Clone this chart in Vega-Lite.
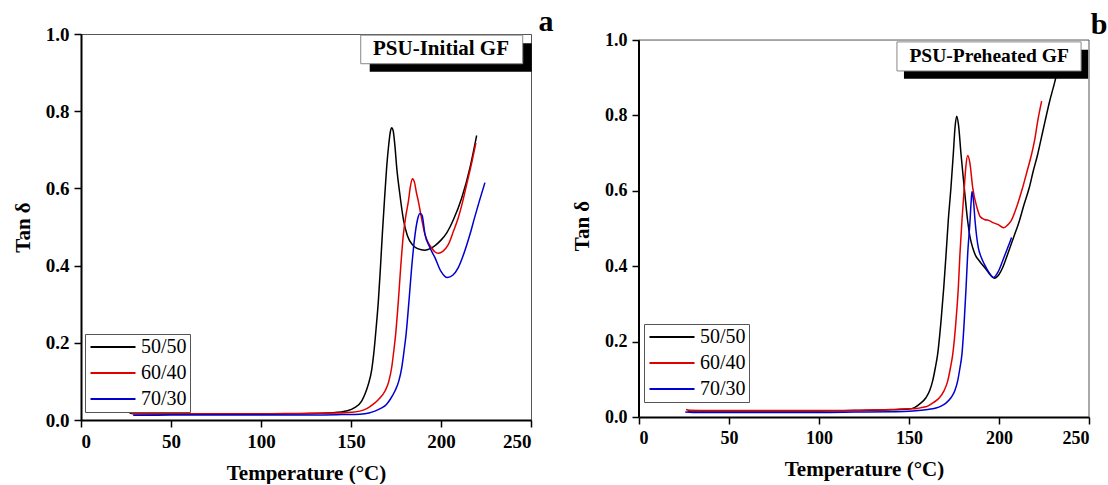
{
  "$schema": "https://vega.github.io/schema/vega-lite/v6.json",
  "background": "white",
  "padding": {"left": 11, "top": 6, "right": 0, "bottom": 0},
  "spacing": 17,
  "config": {
    "font": "Liberation Serif",
    "view": {"stroke": "#555", "strokeWidth": 1},
    "axis": {"domainColor": "#000", "domainWidth": 2, "tickColor": "#000", "tickWidth": 1.5, "tickSize": 7, "grid": false,
      "labelFont": "Liberation Serif", "labelFontWeight": "bold", "labelColor": "#000", "labelPadding": 5,
      "titleFont": "Liberation Serif", "titleFontWeight": "bold", "titleColor": "#000"},
    "legend": {"orient": "none", "symbolType": "M-3,0H3", "symbolSize": 225, "symbolStrokeWidth": 1.8, "symbolOffset": 15,
      "labelFont": "Liberation Serif", "labelFontSize": 20, "labelColor": "#000", "labelOffset": 18,
      "strokeColor": "#555", "padding": 3, "rowPadding": 6, "title": null}
  },
  "datasets": {
    "a": [
      {"s":"50/50","T":27,"v":0.018},{"s":"50/50","T":30,"v":0.016},{"s":"50/50","T":50,"v":0.015},{"s":"50/50","T":80,"v":0.015},{"s":"50/50","T":100,"v":0.015},{"s":"50/50","T":120,"v":0.016},{"s":"50/50","T":140,"v":0.019},{"s":"50/50","T":148,"v":0.024},{"s":"50/50","T":152,"v":0.032},{"s":"50/50","T":155.9,"v":0.049},{"s":"50/50","T":158,"v":0.07},{"s":"50/50","T":159.6,"v":0.092},{"s":"50/50","T":161.5,"v":0.13},{"s":"50/50","T":162.8,"v":0.179},{"s":"50/50","T":164,"v":0.24},{"s":"50/50","T":165.2,"v":0.308},{"s":"50/50","T":166.3,"v":0.39},{"s":"50/50","T":167.4,"v":0.481},{"s":"50/50","T":168.6,"v":0.57},{"s":"50/50","T":169.8,"v":0.654},{"s":"50/50","T":171,"v":0.715},{"s":"50/50","T":172,"v":0.75},{"s":"50/50","T":172.6,"v":0.757},{"s":"50/50","T":173.4,"v":0.75},{"s":"50/50","T":174.4,"v":0.71},{"s":"50/50","T":175.4,"v":0.654},{"s":"50/50","T":177,"v":0.59},{"s":"50/50","T":179.1,"v":0.52},{"s":"50/50","T":181.3,"v":0.478},{"s":"50/50","T":184.3,"v":0.453},{"s":"50/50","T":187,"v":0.444},{"s":"50/50","T":191,"v":0.44},{"s":"50/50","T":194,"v":0.444},{"s":"50/50","T":196.7,"v":0.452},{"s":"50/50","T":200,"v":0.466},{"s":"50/50","T":203.2,"v":0.485},{"s":"50/50","T":207,"v":0.52},{"s":"50/50","T":211.5,"v":0.575},{"s":"50/50","T":216.1,"v":0.654},{"s":"50/50","T":219.8,"v":0.737},
      {"s":"60/40","T":28,"v":0.017},{"s":"60/40","T":30,"v":0.016},{"s":"60/40","T":50,"v":0.016},{"s":"60/40","T":80,"v":0.016},{"s":"60/40","T":100,"v":0.016},{"s":"60/40","T":120,"v":0.017},{"s":"60/40","T":140,"v":0.018},{"s":"60/40","T":150,"v":0.02},{"s":"60/40","T":155,"v":0.023},{"s":"60/40","T":159,"v":0.03},{"s":"60/40","T":162.4,"v":0.041},{"s":"60/40","T":165,"v":0.052},{"s":"60/40","T":168.9,"v":0.075},{"s":"60/40","T":171,"v":0.1},{"s":"60/40","T":172.6,"v":0.136},{"s":"60/40","T":173.8,"v":0.18},{"s":"60/40","T":174.8,"v":0.222},{"s":"60/40","T":176.3,"v":0.308},{"s":"60/40","T":177.6,"v":0.395},{"s":"60/40","T":179.1,"v":0.481},{"s":"60/40","T":180.5,"v":0.53},{"s":"60/40","T":181.9,"v":0.567},{"s":"60/40","T":183,"v":0.605},{"s":"60/40","T":184.1,"v":0.625},{"s":"60/40","T":185.3,"v":0.615},{"s":"60/40","T":186.3,"v":0.59},{"s":"60/40","T":187.4,"v":0.567},{"s":"60/40","T":189.3,"v":0.52},{"s":"60/40","T":191.1,"v":0.481},{"s":"60/40","T":192.8,"v":0.46},{"s":"60/40","T":194.8,"v":0.446},{"s":"60/40","T":196.5,"v":0.436},{"s":"60/40","T":198.5,"v":0.432},{"s":"60/40","T":201,"v":0.437},{"s":"60/40","T":204.1,"v":0.455},{"s":"60/40","T":207,"v":0.49},{"s":"60/40","T":209.6,"v":0.524},{"s":"60/40","T":212,"v":0.565},{"s":"60/40","T":214.3,"v":0.611},{"s":"60/40","T":217,"v":0.665},{"s":"60/40","T":219.4,"v":0.718},
      {"s":"70/30","T":29,"v":0.012},{"s":"70/30","T":35,"v":0.012},{"s":"70/30","T":50,"v":0.013},{"s":"70/30","T":80,"v":0.013},{"s":"70/30","T":100,"v":0.013},{"s":"70/30","T":130,"v":0.013},{"s":"70/30","T":145,"v":0.014},{"s":"70/30","T":155,"v":0.015},{"s":"70/30","T":160,"v":0.018},{"s":"70/30","T":163.3,"v":0.023},{"s":"70/30","T":166.5,"v":0.03},{"s":"70/30","T":169.8,"v":0.041},{"s":"70/30","T":172,"v":0.055},{"s":"70/30","T":174.4,"v":0.075},{"s":"70/30","T":176.5,"v":0.1},{"s":"70/30","T":178.2,"v":0.136},{"s":"70/30","T":179.5,"v":0.18},{"s":"70/30","T":180.6,"v":0.222},{"s":"70/30","T":182.2,"v":0.308},{"s":"70/30","T":183.7,"v":0.395},{"s":"70/30","T":185.6,"v":0.481},{"s":"70/30","T":187,"v":0.52},{"s":"70/30","T":188.3,"v":0.535},{"s":"70/30","T":189.5,"v":0.53},{"s":"70/30","T":191.1,"v":0.481},{"s":"70/30","T":193.5,"v":0.45},{"s":"70/30","T":196.7,"v":0.42},{"s":"70/30","T":200,"v":0.385},{"s":"70/30","T":203.5,"v":0.369},{"s":"70/30","T":206.5,"v":0.375},{"s":"70/30","T":209.6,"v":0.395},{"s":"70/30","T":213,"v":0.435},{"s":"70/30","T":216.1,"v":0.481},{"s":"70/30","T":218.7,"v":0.525},{"s":"70/30","T":221.3,"v":0.567},{"s":"70/30","T":224.4,"v":0.615}
    ],
    "b": [
      {"s":"50/50","T":27,"v":0.016},{"s":"50/50","T":40,"v":0.016},{"s":"50/50","T":60,"v":0.016},{"s":"50/50","T":80,"v":0.016},{"s":"50/50","T":100,"v":0.016},{"s":"50/50","T":120,"v":0.017},{"s":"50/50","T":140,"v":0.019},{"s":"50/50","T":150,"v":0.021},{"s":"50/50","T":153,"v":0.025},{"s":"50/50","T":156,"v":0.035},{"s":"50/50","T":159.4,"v":0.051},{"s":"50/50","T":161.5,"v":0.07},{"s":"50/50","T":163.1,"v":0.095},{"s":"50/50","T":164.6,"v":0.13},{"s":"50/50","T":165.9,"v":0.166},{"s":"50/50","T":167.8,"v":0.255},{"s":"50/50","T":169.3,"v":0.343},{"s":"50/50","T":170.6,"v":0.432},{"s":"50/50","T":171.8,"v":0.52},{"s":"50/50","T":173.3,"v":0.608},{"s":"50/50","T":174.6,"v":0.697},{"s":"50/50","T":175.6,"v":0.77},{"s":"50/50","T":176.5,"v":0.798},{"s":"50/50","T":177.5,"v":0.775},{"s":"50/50","T":178.9,"v":0.697},{"s":"50/50","T":180.7,"v":0.608},{"s":"50/50","T":182.6,"v":0.52},{"s":"50/50","T":184,"v":0.475},{"s":"50/50","T":185.4,"v":0.449},{"s":"50/50","T":187,"v":0.428},{"s":"50/50","T":189.1,"v":0.414},{"s":"50/50","T":192.8,"v":0.392},{"s":"50/50","T":195,"v":0.378},{"s":"50/50","T":197.4,"v":0.368},{"s":"50/50","T":200,"v":0.378},{"s":"50/50","T":202,"v":0.396},{"s":"50/50","T":204.8,"v":0.432},{"s":"50/50","T":208,"v":0.475},{"s":"50/50","T":211.3,"v":0.52},{"s":"50/50","T":214,"v":0.565},{"s":"50/50","T":216.8,"v":0.608},{"s":"50/50","T":219,"v":0.652},{"s":"50/50","T":221.5,"v":0.697},{"s":"50/50","T":223.5,"v":0.74},{"s":"50/50","T":225.6,"v":0.785},{"s":"50/50","T":228,"v":0.835},{"s":"50/50","T":231.1,"v":0.891},{"s":"50/50","T":234,"v":0.95},
      {"s":"60/40","T":26.1,"v":0.02},{"s":"60/40","T":28,"v":0.018},{"s":"60/40","T":40,"v":0.017},{"s":"60/40","T":60,"v":0.017},{"s":"60/40","T":80,"v":0.017},{"s":"60/40","T":100,"v":0.017},{"s":"60/40","T":120,"v":0.018},{"s":"60/40","T":140,"v":0.02},{"s":"60/40","T":150,"v":0.022},{"s":"60/40","T":153,"v":0.022},{"s":"60/40","T":157,"v":0.025},{"s":"60/40","T":160.4,"v":0.029},{"s":"60/40","T":163.5,"v":0.038},{"s":"60/40","T":166.9,"v":0.051},{"s":"60/40","T":169.5,"v":0.07},{"s":"60/40","T":171.5,"v":0.095},{"s":"60/40","T":173,"v":0.13},{"s":"60/40","T":174.3,"v":0.166},{"s":"60/40","T":176.1,"v":0.255},{"s":"60/40","T":177.4,"v":0.343},{"s":"60/40","T":178.3,"v":0.432},{"s":"60/40","T":179.4,"v":0.52},{"s":"60/40","T":180.7,"v":0.608},{"s":"60/40","T":181.6,"v":0.665},{"s":"60/40","T":182.6,"v":0.694},{"s":"60/40","T":183.8,"v":0.675},{"s":"60/40","T":185.4,"v":0.608},{"s":"60/40","T":187.8,"v":0.555},{"s":"60/40","T":189.5,"v":0.532},{"s":"60/40","T":191.9,"v":0.524},{"s":"60/40","T":194.6,"v":0.521},{"s":"60/40","T":197,"v":0.515},{"s":"60/40","T":199.3,"v":0.511},{"s":"60/40","T":202.6,"v":0.502},{"s":"60/40","T":204.5,"v":0.508},{"s":"60/40","T":206.7,"v":0.52},{"s":"60/40","T":210,"v":0.56},{"s":"60/40","T":213.1,"v":0.608},{"s":"60/40","T":215.6,"v":0.652},{"s":"60/40","T":218.1,"v":0.697},{"s":"60/40","T":220,"v":0.74},{"s":"60/40","T":221.5,"v":0.785},{"s":"60/40","T":223.7,"v":0.838},
      {"s":"70/30","T":25.7,"v":0.013},{"s":"70/30","T":30,"v":0.012},{"s":"70/30","T":50,"v":0.012},{"s":"70/30","T":80,"v":0.012},{"s":"70/30","T":100,"v":0.012},{"s":"70/30","T":120,"v":0.013},{"s":"70/30","T":140,"v":0.014},{"s":"70/30","T":150,"v":0.015},{"s":"70/30","T":156.7,"v":0.018},{"s":"70/30","T":162,"v":0.021},{"s":"70/30","T":165,"v":0.024},{"s":"70/30","T":167.8,"v":0.029},{"s":"70/30","T":170.5,"v":0.037},{"s":"70/30","T":173.3,"v":0.051},{"s":"70/30","T":175.5,"v":0.07},{"s":"70/30","T":177,"v":0.095},{"s":"70/30","T":178.3,"v":0.13},{"s":"70/30","T":179.4,"v":0.166},{"s":"70/30","T":180.7,"v":0.255},{"s":"70/30","T":181.7,"v":0.343},{"s":"70/30","T":182.6,"v":0.432},{"s":"70/30","T":183.9,"v":0.52},{"s":"70/30","T":184.5,"v":0.57},{"s":"70/30","T":185,"v":0.598},{"s":"70/30","T":185.8,"v":0.575},{"s":"70/30","T":186.7,"v":0.52},{"s":"70/30","T":188.5,"v":0.449},{"s":"70/30","T":190,"v":0.425},{"s":"70/30","T":191.9,"v":0.405},{"s":"70/30","T":194.5,"v":0.383},{"s":"70/30","T":197,"v":0.37},{"s":"70/30","T":199.5,"v":0.385},{"s":"70/30","T":202,"v":0.414},{"s":"70/30","T":204.5,"v":0.445},{"s":"70/30","T":207,"v":0.476}
    ]
  },
  "resolve": {"legend": {"color": "independent"}, "scale": {"color": "independent"}},
  "hconcat": [
    {
      "width": 450, "height": 386,
      "layer": [
        {
          "data": {"name": "a"},
          "mark": {"type": "line", "strokeWidth": 1.5, "interpolate": "monotone", "clip": false},
          "encoding": {
            "x": {"field": "T", "type": "quantitative", "scale": {"domain": [0, 250], "nice": false},
              "axis": {"values": [0, 50, 100, 150, 200, 250], "title": "Temperature (°C)", "labelFont": "Liberation Serif", "labelFontWeight": "bold", "labelFontSize": 19, "titleFont": "Liberation Serif", "titleFontSize": 21, "titlePadding": 11}},
            "y": {"field": "v", "type": "quantitative", "scale": {"domain": [0, 1], "nice": false},
              "axis": {"values": [0, 0.1, 0.2, 0.3, 0.4, 0.5, 0.6, 0.7, 0.8, 0.9, 1.0], "labelExpr": "round(datum.value*10) % 2 == 0 ? format(datum.value, '.1f') : ''", "title": "Tan δ", "labelFont": "Liberation Serif", "labelFontWeight": "bold", "labelFontSize": 19, "titleFont": "Liberation Serif", "titleFontSize": 21, "titlePadding": 12}},
            "color": {"field": "s", "type": "nominal", "scale": {"domain": ["50/50", "60/40", "70/30"], "range": ["#000000", "#e00000", "#0000d0"]},
              "legend": {"legendX": 4, "legendY": 300, "labelFont": "Liberation Serif", "labelFontWeight": "normal"}}
          }
        },
        {
          "data": {"values": [{}]},
          "mark": {"type": "rect", "fill": "#000"},
          "encoding": {"x": {"datum": 160.4}, "x2": {"datum": 250.4}, "y": {"datum": 0.976}, "y2": {"datum": 0.902}}
        },
        {
          "data": {"values": [{}]},
          "mark": {"type": "rect", "fill": "#fff", "stroke": "#888", "strokeWidth": 1},
          "encoding": {"x": {"datum": 155.4}, "x2": {"datum": 245.4}, "y": {"datum": 0.997}, "y2": {"datum": 0.923}}
        },
        {
          "data": {"values": [{}]},
          "mark": {"type": "text", "text": "PSU-Initial GF", "font": "Liberation Serif", "fontWeight": "bold", "fontSize": 21, "color": "#000", "align": "center", "baseline": "middle"},
          "encoding": {"x": {"datum": 200}, "y": {"datum": 0.961}}
        },
        {
          "data": {"values": [{}]},
          "mark": {"type": "text", "text": "a", "font": "Liberation Serif", "fontWeight": "bold", "fontSize": 30, "color": "#000", "align": "center", "baseline": "alphabetic"},
          "encoding": {"x": {"datum": 258.3}, "y": {"datum": 1.008}}
        }
      ]
    },
    {
      "width": 450, "height": 383,
      "view": {"stroke": null},
      "layer": [
        {
          "data": {"name": "b"},
          "mark": {"type": "line", "strokeWidth": 1.5, "interpolate": "monotone", "clip": false},
          "encoding": {
            "x": {"field": "T", "type": "quantitative", "scale": {"domain": [0, 250], "nice": false},
              "axis": {"values": [0, 50, 100, 150, 200, 250], "title": "Temperature (°C)", "labelFont": "Liberation Serif", "labelFontWeight": "bold", "labelFontSize": 18, "titleFont": "Liberation Serif", "titleFontSize": 21, "titlePadding": 11}},
            "y": {"field": "v", "type": "quantitative", "scale": {"domain": [0, 1.016], "nice": false},
              "axis": {"values": [0, 0.1, 0.2, 0.3, 0.4, 0.5, 0.6, 0.7, 0.8, 0.9, 1.0], "domain": false, "labelExpr": "round(datum.value*10) % 2 == 0 ? format(datum.value, '.1f') : ''", "title": "Tan δ", "labelFont": "Liberation Serif", "labelFontWeight": "bold", "labelFontSize": 18, "titleFont": "Liberation Serif", "titleFontSize": 21, "titlePadding": 12}},
            "color": {"field": "s", "type": "nominal", "scale": {"domain": ["50/50", "60/40", "70/30"], "range": ["#000000", "#e00000", "#0000d0"]},
              "legend": {"legendX": 5, "legendY": 290, "labelFont": "Liberation Serif", "labelFontWeight": "normal"}}
          }
        },
        {
          "data": {"values": [{}]},
          "mark": {"type": "rule", "color": "#000", "strokeWidth": 2},
          "encoding": {"x": {"datum": 0}, "y": {"datum": 0}, "y2": {"datum": 1}}
        },
        {
          "data": {"values": [{}]},
          "mark": {"type": "rule", "color": "#555", "strokeWidth": 1},
          "encoding": {"x": {"datum": 250}, "y": {"datum": 0}, "y2": {"datum": 1}}
        },
        {
          "data": {"values": [{}]},
          "mark": {"type": "rule", "color": "#555", "strokeWidth": 1},
          "encoding": {"y": {"datum": 1}, "x": {"datum": 0}, "x2": {"datum": 250}}
        },
        {
          "data": {"values": [{}]},
          "mark": {"type": "rect", "fill": "#000"},
          "encoding": {"x": {"datum": 147.2}, "x2": {"datum": 249.5}, "y": {"datum": 0.974}, "y2": {"datum": 0.897}}
        },
        {
          "data": {"values": [{}]},
          "mark": {"type": "rect", "fill": "#fff", "stroke": "#888", "strokeWidth": 1},
          "encoding": {"x": {"datum": 143.3}, "x2": {"datum": 245.6}, "y": {"datum": 0.995}, "y2": {"datum": 0.918}}
        },
        {
          "data": {"values": [{}]},
          "mark": {"type": "text", "text": "PSU-Preheated GF", "font": "Liberation Serif", "fontWeight": "bold", "fontSize": 19.5, "color": "#000", "align": "center", "baseline": "middle"},
          "encoding": {"x": {"datum": 194.5}, "y": {"datum": 0.958}}
        },
        {
          "data": {"values": [{}]},
          "mark": {"type": "text", "text": "b", "font": "Liberation Serif", "fontWeight": "bold", "fontSize": 30, "color": "#000", "align": "center", "baseline": "alphabetic"},
          "encoding": {"x": {"datum": 255.6}, "y": {"datum": 1.016}}
        }
      ]
    }
  ]
}
